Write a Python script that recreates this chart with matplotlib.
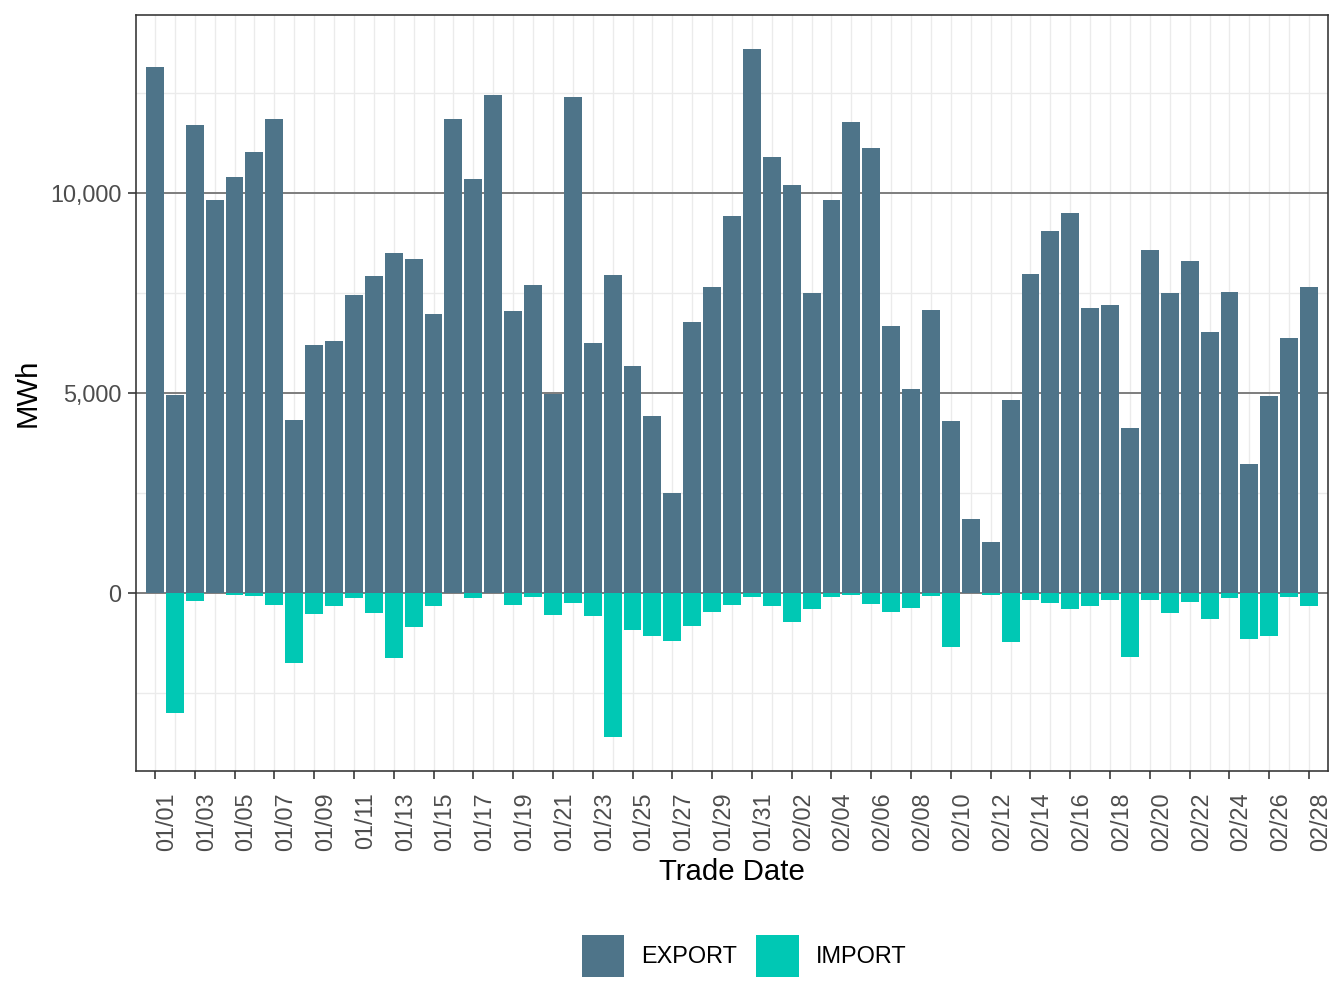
import matplotlib
matplotlib.use("Agg")
import matplotlib.pyplot as plt
import numpy as np
import pandas as pd
from matplotlib.patches import Patch
from matplotlib.ticker import FuncFormatter, MultipleLocator

plt.rcParams['font.family'] = ['Liberation Sans', 'DejaVu Sans']

# daily trade dates, Jan 1 - Feb 28
trade_dates = pd.date_range("2023-01-01", "2023-02-28", freq="D")
date_labels = trade_dates.strftime("%m/%d").tolist()

export_mwh = [
    13150, 4950, 11700, 9830, 10410, 11030, 11850, 4320, 6220, 6320,
    7470, 7940, 8510, 8360, 6990, 11850, 10360, 12450, 7070, 7710,
    4970, 12400, 6270, 7960, 5690, 4420, 2500, 6790, 7660, 9430,
    13600, 10910, 10210, 7510, 9830, 11780, 11130, 6690, 5120, 7090,
    4300, 1850, 1280, 4820, 7990, 9060, 9510, 7140, 7210, 4120,
    8590, 7510, 8310, 6540, 7540, 3220, 4920, 6390, 7660,
]
import_mwh = [
    0, -2985, -190, 0, -35, -60, -285, -1740, -510, -315,
    -115, -490, -1615, -840, -315, 0, -115, 0, -290, -90,
    -540, -240, -565, -3585, -915, -1065, -1190, -815, -465, -290,
    -90, -315, -715, -390, -90, -35, -265, -465, -365, -65,
    -1340, 0, -35, -1215, -165, -240, -390, -315, -165, -1590,
    -165, -490, -215, -640, -115, -1140, -1065, -90, -315,
]

EXPORT_COLOR = '#4E7489'
IMPORT_COLOR = '#00C8B4'

W, H = 1344, 1008
fig = plt.figure(figsize=(7, 5.25), dpi=192)
ax = fig.add_axes([136 / W, 1 - 771 / H, (1328 - 136) / W, (771 - 15) / H])

x = np.arange(len(date_labels))
ax.bar(x, export_mwh, width=0.9, color=EXPORT_COLOR, linewidth=0, zorder=2)
ax.bar(x, import_mwh, width=0.9, color=IMPORT_COLOR, linewidth=0, zorder=2)

# ggplot-like expansion
lo, hi = min(import_mwh), max(export_mwh)
pad = 0.05 * (hi - lo)
ax.set_ylim(lo - pad, hi + pad)
ax.set_xlim(-0.95, len(x) - 1 + 0.95)

# grid
ax.set_axisbelow(True)
ax.yaxis.set_major_locator(MultipleLocator(5000))
ax.yaxis.set_minor_locator(MultipleLocator(2500))
ax.set_xticks(x[::2])
ax.set_xticks(x[1::2], minor=True)
ax.set_xticklabels(date_labels[::2])
ax.yaxis.set_major_formatter(FuncFormatter(lambda v, p: f"{v:,.0f}"))

ax.grid(axis='y', which='major', color='#808080', linewidth=0.75)
ax.grid(axis='y', which='minor', color='#EBEBEB', linewidth=0.5)
ax.grid(axis='x', which='both', color='#EBEBEB', linewidth=0.5)

for s in ax.spines.values():
    s.set_color('#333333')
    s.set_linewidth(0.6)

ax.tick_params(axis='both', which='major', length=3, width=0.6, color='#333333',
               labelsize=8.8, labelcolor='#4D4D4D', pad=2.5)
ax.tick_params(axis='x', which='major', pad=5)
ax.tick_params(axis='both', which='minor', length=0)
for lab in ax.get_xticklabels():
    lab.set_rotation(90)
    lab.set_ha('left')
    lab.set_va('top')

fig.text(732 / W, 1 - 872 / H, 'Trade Date', ha='center', va='center', fontsize=11)
fig.text(28 / W, 1 - 393 / H, 'MWh', ha='center', va='center', fontsize=11, rotation=90)

handles = [Patch(facecolor=EXPORT_COLOR, edgecolor='none', label='EXPORT'),
           Patch(facecolor=IMPORT_COLOR, edgecolor='none', label='IMPORT')]
fig.legend(handles=handles, loc='center', bbox_to_anchor=(744 / W, 1 - 956 / H),
           ncol=2, frameon=False, fontsize=8.8, handlelength=1.83, handleheight=2.35,
           handletextpad=0.72, columnspacing=0.8, borderaxespad=0)

fig.savefig('out.png', dpi=192)
